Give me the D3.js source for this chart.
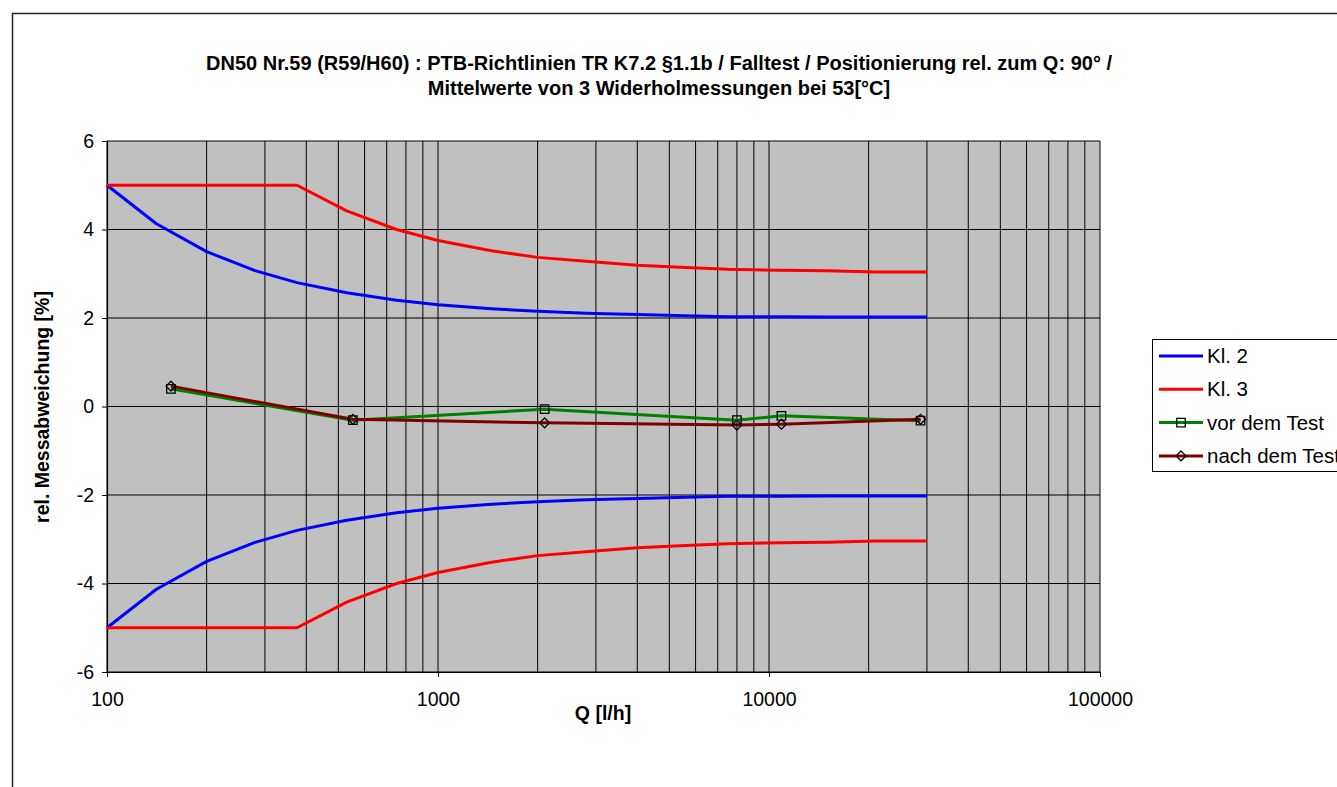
<!DOCTYPE html>
<html>
<head>
<meta charset="utf-8">
<script src="https://cdn.jsdelivr.net/npm/d3@7"></script>
<style>
  html, body { margin: 0; padding: 0; background: #fff; overflow: hidden; }
  svg { display: block; font-family: "Liberation Sans", Arial, sans-serif; }
</style>
</head>
<body>
<svg id="chart" width="1337" height="787"></svg>
<script>
// Flow rates [l/h] at which the error limits are tabulated
const limitQ = [100, 141, 200, 280, 375, 530, 750, 1000, 1450, 2000, 2800, 4000, 5600, 7500, 10800, 15000, 21000, 30000];
// Class 2 limits [%]
const kl2Upper = [5.00, 4.13, 3.50, 3.07, 2.80, 2.57, 2.40, 2.30, 2.21, 2.15, 2.11, 2.08, 2.05, 2.03, 2.03, 2.02, 2.02, 2.02];
const kl2Lower = [-5.00, -4.13, -3.50, -3.07, -2.80, -2.57, -2.40, -2.30, -2.21, -2.15, -2.11, -2.08, -2.05, -2.03, -2.03, -2.02, -2.02, -2.02];
// Class 3 limits [%]
const kl3Upper = [5.00, 5.00, 5.00, 5.00, 5.00, 4.42, 4.00, 3.75, 3.52, 3.37, 3.28, 3.19, 3.14, 3.10, 3.08, 3.07, 3.04, 3.04];
const kl3Lower = [-5.00, -5.00, -5.00, -5.00, -5.00, -4.42, -4.00, -3.75, -3.52, -3.37, -3.28, -3.19, -3.14, -3.10, -3.08, -3.07, -3.04, -3.04];

// Measured flow rates [l/h] and mean deviations [%]
const measQ = [156, 553, 2100, 8000, 10900, 28700];
const vorDemTest = [0.40, -0.31, -0.06, -0.31, -0.21, -0.32];
const nachDemTest = [0.46, -0.29, -0.37, -0.42, -0.40, -0.29];

// Axis ticks
const xTickValues = [100, 1000, 10000, 100000];
const yTickValues = [-6, -4, -2, 0, 2, 4, 6];

const titleLines = [
  "DN50 Nr.59 (R59/H60) : PTB-Richtlinien TR K7.2 §1.1b / Falltest / Positionierung rel. zum Q: 90° /",
  "Mittelwerte von 3 Widerholmessungen bei 53[°C]"
];
const seriesNames = ["Kl. 2", "Kl. 3", "vor dem Test", "nach dem Test"];
const colors = { kl2: "#0000ff", kl3: "#ff0000", vor: "#008000", nach: "#800000" };

const svg = d3.select("#chart");
const font = "'Liberation Sans', Arial, sans-serif";

// Outer chart frame
svg.append("rect")
  .attr("x", 12.5).attr("y", 13.5)
  .attr("width", 1400).attr("height", 800)
  .attr("fill", "#fff").attr("stroke", "#222").attr("stroke-width", 1.5);

const plot = { left: 107, right: 1100, top: 141, bottom: 672 };
const x = d3.scaleLog().domain([100, 100000]).range([plot.left, plot.right]);
const y = d3.scaleLinear().domain([-6, 6]).range([plot.bottom, plot.top]);

// Plot background
svg.append("rect")
  .attr("x", plot.left).attr("y", plot.top)
  .attr("width", plot.right - plot.left).attr("height", plot.bottom - plot.top)
  .attr("fill", "#c0c0c0");

// Grid lines: every integer multiple within each decade
const grid = svg.append("g").attr("stroke", "#000").attr("stroke-width", 1);
const gridQ = [];
for (let d = 100; d < 100000; d *= 10) {
  for (let m = 1; m <= 9; m++) gridQ.push(d * m);
}
gridQ.push(100000);
grid.selectAll("line.v").data(gridQ).join("line")
  .attr("class", "v")
  .attr("x1", d => x(d)).attr("x2", d => x(d))
  .attr("y1", plot.top).attr("y2", plot.bottom);
grid.selectAll("line.h").data(yTickValues).join("line")
  .attr("class", "h")
  .attr("x1", plot.left).attr("x2", plot.right)
  .attr("y1", d => y(d)).attr("y2", d => y(d));

// Axes
const xAxis = d3.axisBottom(x).tickValues(xTickValues).tickFormat(d3.format("d")).tickSizeInner(5).tickSizeOuter(0).tickPadding(15);
const yAxis = d3.axisLeft(y).tickValues(yTickValues).tickFormat(d3.format("d")).tickSizeInner(5).tickSizeOuter(0).tickPadding(8);

const gx = svg.append("g").attr("transform", `translate(0,${plot.bottom})`).call(xAxis);
const gy = svg.append("g").attr("transform", `translate(${plot.left},0)`).call(yAxis);
[gx, gy].forEach(g => {
  g.select(".domain").attr("stroke", "#000").attr("stroke-width", 1.2);
  g.selectAll(".tick line").attr("stroke", "#000");
  g.selectAll(".tick text").attr("font-family", font).attr("font-size", 19.5).attr("fill", "#000");
});
gy.selectAll(".tick text").text(d => d < 0 ? "-" + Math.abs(d) : d);

// Limit curves
const line = d3.line().x(d => x(d[0])).y(d => y(d[1]));
const zipQ = (qs, vs) => qs.map((q, i) => [q, vs[i]]);

const curves = svg.append("g").attr("fill", "none").attr("stroke-width", 3).attr("stroke-linejoin", "round");
curves.append("path").attr("d", line(zipQ(limitQ, kl2Upper))).attr("stroke", colors.kl2);
curves.append("path").attr("d", line(zipQ(limitQ, kl2Lower))).attr("stroke", colors.kl2);
curves.append("path").attr("d", line(zipQ(limitQ, kl3Upper))).attr("stroke", colors.kl3);
curves.append("path").attr("d", line(zipQ(limitQ, kl3Lower))).attr("stroke", colors.kl3);

// Measurement series
const squareSym = d3.symbol().type(d3.symbolSquare).size(72);
const diamondSym = d3.symbol().type(d3.symbolDiamond2).size(62);

curves.append("path").attr("d", line(zipQ(measQ, vorDemTest))).attr("stroke", colors.vor);
svg.append("g").selectAll("path").data(zipQ(measQ, vorDemTest)).join("path")
  .attr("d", squareSym)
  .attr("transform", d => `translate(${x(d[0])},${y(d[1])})`)
  .attr("fill", "none").attr("stroke", "#000").attr("stroke-width", 1.3);

curves.append("path").attr("d", line(zipQ(measQ, nachDemTest))).attr("stroke", colors.nach);
svg.append("g").selectAll("path").data(zipQ(measQ, nachDemTest)).join("path")
  .attr("d", diamondSym)
  .attr("transform", d => `translate(${x(d[0])},${y(d[1])})`)
  .attr("fill", "none").attr("stroke", "#000").attr("stroke-width", 1.3);

// Title
svg.append("g").selectAll("text").data(titleLines).join("text")
  .attr("x", 659).attr("y", (d, i) => 70 + i * 25)
  .attr("text-anchor", "middle")
  .attr("font-family", font).attr("font-size", 20).attr("font-weight", "bold")
  .text(d => d);

// Axis titles
svg.append("text")
  .attr("x", 603).attr("y", 720)
  .attr("text-anchor", "middle")
  .attr("font-family", font).attr("font-size", 19.5).attr("font-weight", "bold")
  .text("Q [l/h]");
svg.append("text")
  .attr("transform", "translate(49,407) rotate(-90)")
  .attr("text-anchor", "middle")
  .attr("font-family", font).attr("font-size", 19.5).attr("font-weight", "bold")
  .text("rel. Messabweichung [%]");

// Legend
const legend = svg.append("g");
legend.append("rect")
  .attr("x", 1152.5).attr("y", 339.5).attr("width", 220).attr("height", 132)
  .attr("fill", "#fff").attr("stroke", "#000").attr("stroke-width", 1);
const legendItems = [
  { name: seriesNames[0], color: colors.kl2, marker: null },
  { name: seriesNames[1], color: colors.kl3, marker: null },
  { name: seriesNames[2], color: colors.vor, marker: squareSym },
  { name: seriesNames[3], color: colors.nach, marker: diamondSym }
];
const li = legend.selectAll("g.item").data(legendItems).join("g")
  .attr("class", "item")
  .attr("transform", (d, i) => `translate(0,${356 + i * 33.3})`);
li.append("line")
  .attr("x1", 1159).attr("x2", 1203)
  .attr("stroke", d => d.color).attr("stroke-width", 3);
li.filter(d => d.marker).append("path")
  .attr("d", d => d.marker())
  .attr("transform", "translate(1181,0)")
  .attr("fill", "none").attr("stroke", "#000").attr("stroke-width", 1.3);
li.append("text")
  .attr("x", 1207).attr("y", 7)
  .attr("font-family", font).attr("font-size", 20.5)
  .text(d => d.name);
</script>
</body>
</html>
